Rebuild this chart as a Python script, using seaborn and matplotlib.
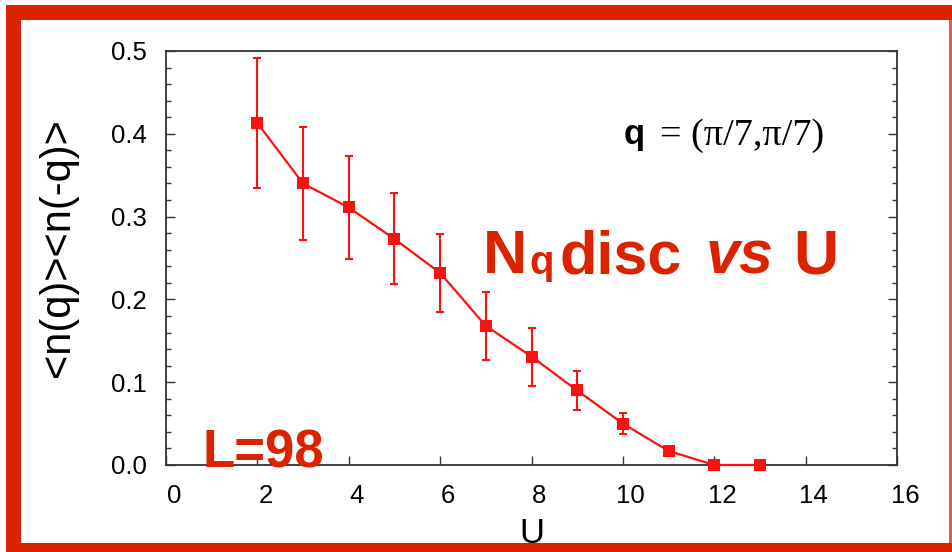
import matplotlib
matplotlib.use("Agg")
import matplotlib.pyplot as plt
import matplotlib.transforms as mtransforms
from matplotlib.patches import Rectangle
from matplotlib.ticker import MultipleLocator, FormatStrFormatter
import seaborn as sns
import pandas as pd

# ---- data ----
U = [2, 3, 4, 5, 6, 7, 8, 9, 10, 11, 12, 13]
nq = [0.413, 0.340, 0.311, 0.273, 0.232, 0.168, 0.131, 0.090, 0.050, 0.017, 0.0, 0.0]
err = [0.079, 0.068, 0.062, 0.055, 0.047, 0.041, 0.035, 0.024, 0.013, 0.004, 0.0, 0.0]
x_ticks = [0, 2, 4, 6, 8, 10, 12, 14, 16]
y_ticks = [0.0, 0.1, 0.2, 0.3, 0.4, 0.5]
x_label = "U"
y_label = "<n(q)><n(-q)>"
title_parts = ["N", "q", "disc", "vs", "U"]
size_label = "L=98"
q_text_bold = "q"
q_text_rest = "= (\u03c0/7,\u03c0/7)"

DATA_RED = "#ff1010"
FRAME_RED = "#dc2300"
W, H = 952, 552

sns.set_theme(style="ticks")
plt.rcParams["font.family"] = ["Liberation Sans", "DejaVu Sans"]

fig = plt.figure(figsize=(W / 100, H / 100), dpi=100)
fig.patch.set_facecolor("white")

# axes: left 166, right 897, top 51, bottom 465 (pixels)
ax = fig.add_axes([166 / W, 1 - 465 / H, (897 - 166) / W, (465 - 51) / H])
ax.set_facecolor("white")

df = pd.DataFrame({"U": U, "nq": nq})
ax.errorbar(U, nq, yerr=err, fmt="none", ecolor=DATA_RED, elinewidth=1.5,
            capsize=3.2, capthick=1.5, zorder=3)
sns.lineplot(data=df, x="U", y="nq", ax=ax, color=DATA_RED, linewidth=1.6,
             marker="s", markersize=9, markeredgewidth=0, clip_on=False, zorder=4)

ax.set_xlim(0, 16)
ax.set_ylim(0, 0.5)
ax.set_xticks(x_ticks)
ax.set_yticks(y_ticks)
ax.yaxis.set_major_formatter(FormatStrFormatter("%.1f"))
ax.yaxis.set_minor_locator(MultipleLocator(0.02))

for s in ax.spines.values():
    s.set_visible(True)
    s.set_color("#333333")
    s.set_linewidth(1.3)

ax.tick_params(axis="both", which="major", direction="in", length=6.5, width=1.0,
               color="#333333", labelcolor="black", labelsize=18.5, pad=14)
ax.tick_params(axis="y", which="both", left=True, right=True)
ax.tick_params(axis="y", which="minor", direction="in", length=3.5, width=1.0,
               color="#333333")
ax.tick_params(axis="x", which="both", top=False)

# slight rightward shift of x tick labels as in the reference
offset = mtransforms.ScaledTranslation(8 / 100, 0, fig.dpi_scale_trans)
for lab in ax.get_xticklabels():
    lab.set_transform(lab.get_transform() + offset)

ax.set_xlabel(x_label, fontsize=25, color="black", va="top")
ax.xaxis.set_label_coords(0.5, -0.125)
ax.set_ylabel(y_label, fontsize=30, color="black")
ax.yaxis.set_label_coords(-0.12, 0.525)

def px(x, y):
    return x / W, 1 - y / H

# big red annotation
fig.text(*px(483, 273), title_parts[0], fontsize=44, fontweight="bold",
         color=FRAME_RED, ha="left", va="baseline")
fig.text(*px(529, 274), title_parts[1], fontsize=29, fontweight="bold",
         color=FRAME_RED, ha="left", va="baseline")
fig.text(*px(560, 273), title_parts[2], fontsize=44, fontweight="bold",
         color=FRAME_RED, ha="left", va="baseline")
fig.text(*px(706, 273), title_parts[3], fontsize=44, fontweight="bold",
         fontstyle="italic", color=FRAME_RED, ha="left", va="baseline")
fig.text(*px(793, 273), title_parts[4], fontsize=45, fontweight="bold",
         color=FRAME_RED, ha="left", va="baseline")

fig.text(*px(203, 468), size_label, fontsize=38, fontweight="bold",
         color=FRAME_RED, ha="left", va="baseline")

fig.text(*px(624, 144), q_text_bold, fontsize=25, fontweight="bold",
         color="black", ha="left", va="baseline")
fig.text(*px(660, 145), q_text_rest, fontsize=27.5,
         family=["Liberation Serif", "DejaVu Serif"],
         color="black", ha="left", va="baseline")

# red frame around the picture
def frame_rect(x0, y0, x1, y1, color=FRAME_RED):
    r = Rectangle((x0 / W, 1 - y1 / H), (x1 - x0) / W, (y1 - y0) / H,
                  transform=fig.transFigure, facecolor=color, edgecolor="none",
                  zorder=10)
    fig.add_artist(r)

frame_rect(6, 5, W, 20)        # top band
frame_rect(6, 5, 21, H)        # left band
frame_rect(6, 543, W, H)       # bottom band
frame_rect(949, 20, W, 543, color="#e35a4a")   # thin right edge

fig.savefig("out.png", dpi=100, facecolor="white")
